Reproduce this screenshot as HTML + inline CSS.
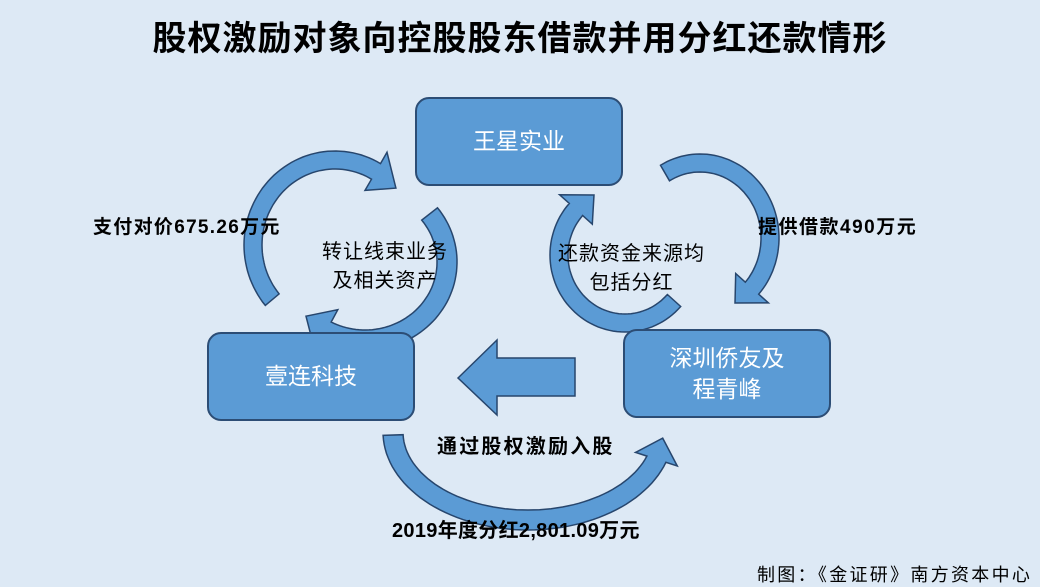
<!DOCTYPE html>
<html><head><meta charset="utf-8"><style>
html,body{margin:0;padding:0}
body{width:1040px;height:587px;background:#dde9f5;position:relative;overflow:hidden;font-family:"Liberation Sans","Noto Sans CJK SC",sans-serif}
.t{position:absolute;white-space:nowrap}
.box{position:absolute;background:#5b9bd5;border:2px solid #2c4d75;border-radius:14px;color:#fff;font-size:23px;display:flex;align-items:center;justify-content:center;text-align:center;line-height:31px;box-sizing:border-box}
</style></head><body>
<div class="t" style="left:0;width:1040px;text-align:center;top:11px;font-size:34px;letter-spacing:1px;font-weight:bold;color:#000">股权激励对象向控股股东借款并用分红还款情形</div>
<svg id="s" width="1040" height="587" style="position:absolute;left:0;top:0"></svg>
<div class="box" style="left:415px;top:97px;width:208px;height:89px">王星实业</div>
<div class="box" style="left:207px;top:332px;width:208px;height:89px">壹连科技</div>
<div class="box" style="left:623px;top:329px;width:208px;height:89px">深圳侨友及<br>程青峰</div>
<div class="t" style="left:93px;top:212px;font-size:19px;letter-spacing:1.3px;font-weight:bold">支付对价675.26万元</div>
<div class="t" style="left:322px;top:238px;font-size:20px;line-height:29px;letter-spacing:1px;text-align:center">转让线束业务<br>及相关资产</div>
<div class="t" style="left:558px;top:240px;font-size:20px;line-height:29px;letter-spacing:1px;text-align:center">还款资金来源均<br>包括分红</div>
<div class="t" style="left:758px;top:212px;font-size:19px;letter-spacing:1.5px;font-weight:bold">提供借款490万元</div>
<div class="t" style="left:437px;top:430px;font-size:20px;letter-spacing:2.2px;font-weight:bold">通过股权激励入股</div>
<div class="t" style="left:392px;top:514px;font-size:20px;letter-spacing:0.3px;font-weight:bold">2019年度分红2,801.09万元</div>
<div class="t" style="left:757px;top:561px;font-size:18px;letter-spacing:2.3px">制图：《金证研》南方资本中心</div>
<script>
var s=document.getElementById('s'),h='';
function arr(cx,cy,rx,ry,w,a0,a1,hw,d){
 var dir=a1>a0?1:-1,N=60,o=[],i=[],r=Math.PI/180;
 function p(a,k){return [cx+(rx+k)*Math.cos(a*r),cy+(ry+k)*Math.sin(a*r)];}
 for(var j=0;j<=N;j++){var a=a0+(a1-a0)*j/N;o.push(p(a,w/2));i.push(p(a,-w/2));}
 var pts=o.concat([p(a1,hw),p(a1+dir*d,0),p(a1,-hw)]).concat(i.reverse());
 h+='<path d="M'+pts.map(function(q){return q[0].toFixed(1)+','+q[1].toFixed(1)}).join('L')+'Z" fill="#5b9bd5" stroke="#27466d" stroke-width="1.5"/>';
}
arr(335,245,82,85,18,140,300,22,18);
arr(365,262,82,78,20,322,478,24,18);
arr(700,238,70,75,18,240,402,22,18);
arr(625,255,66,68,18,42,222,22,20);
arr(528,432,135,88,20,178,18,22,14);
h+='<path d="M458,378L497,340L497,358L575,358L575,396L497,396L497,415Z" fill="#5b9bd5" stroke="#27466d" stroke-width="1.5"/>';
s.innerHTML=h;
</script>
</body></html>
